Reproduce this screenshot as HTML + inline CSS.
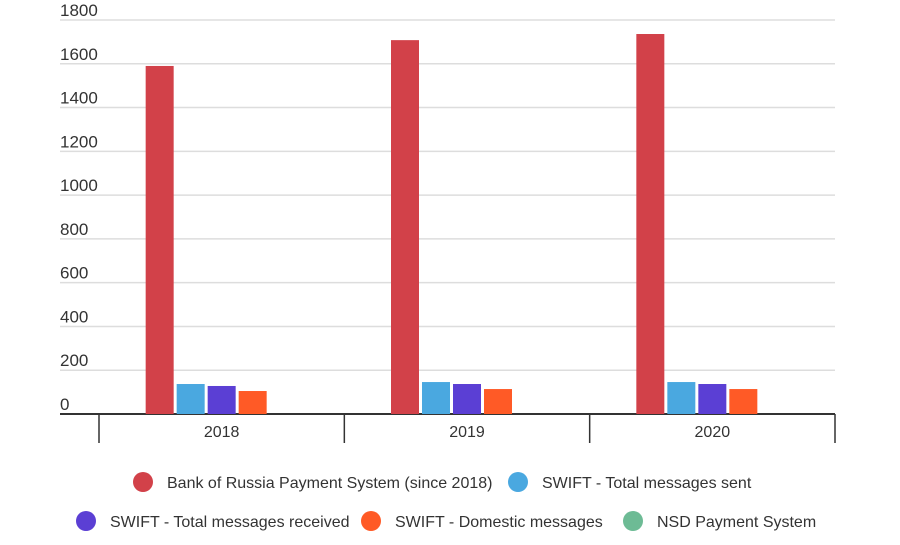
<!DOCTYPE html>
<html><head><meta charset="utf-8"><style>
body{margin:0;background:#fff;font-family:"Liberation Sans",sans-serif;}
svg text{font-family:"Liberation Sans",sans-serif;fill:#333;}
</style></head><body>
<svg id="chart" width="900" height="540" xmlns="http://www.w3.org/2000/svg">
<g id="grid"></g><g id="bars"></g><g id="axis"></g><g id="legend"></g>
</svg>
<script>
const categories = ["2018","2019","2020"];
const seriesNames = ["Bank of Russia Payment System (since 2018)","SWIFT - Total messages sent","SWIFT - Total messages received","SWIFT - Domestic messages","NSD Payment System"];
const bankOfRussia = [1590,1708,1736];
const swiftSent = [137,146,146];
const swiftReceived = [128,137,137];
const swiftDomestic = [105,114,114];
const nsd = [0,0,0];
const yTicks = [0,200,400,600,800,1000,1200,1400,1600,1800];
const colors = ["#d24149","#4aa8e0","#5b3fd4","#ff5a26","#6dbb95"];
const series = [bankOfRussia,swiftSent,swiftReceived,swiftDomestic,nsd];
const NS="http://www.w3.org/2000/svg";
const x0=99,x1=835,y0=414,yTop=20;
const y=v=>y0-(v/1800)*(y0-yTop);
const band=(x1-x0)/categories.length;
function mk(tag,attrs,parent,text){const e=document.createElementNS(NS,tag);for(const k in attrs)e.setAttribute(k,attrs[k]);if(text!==undefined)e.textContent=text;document.getElementById(parent).appendChild(e);return e;}
yTicks.forEach(t=>{
 const l=mk('line',{x1:60,x2:x1,y1:y(t),y2:y(t),stroke:t===0?'#333':'#ddd','stroke-width':t===0?2:1.5},'grid');
 
 
 const tx=mk('text',{x:60,y:y(t)-4,'font-size':17},'grid',String(t));
 
 
});
const bw=28,gap=3;
categories.forEach((c,i)=>{
 const cx=x0+band*(i+0.5);
 const start=cx-(5*bw+4*gap)/2;
 series.forEach((s,j)=>{
  if(s[i]<=0)return;
  const r=mk('rect',{x:start+j*(bw+gap),y:y(s[i]),width:bw,height:y0-y(s[i]),fill:colors[j]},'bars');
  
  
 });
 const t=mk('text',{x:cx,y:437,'text-anchor':'middle','font-size':16},'axis',c);
 
 
});
for(let i=0;i<=categories.length;i++){
 const xx=x0+band*i;
 const l=mk('line',{x1:xx,x2:xx,y1:y0,y2:443,stroke:'#333','stroke-width':1.5},'axis');
 
 
}
const legPos=[[143,482],[518,482],[86,521],[371,521],[633,521]];
seriesNames.forEach((n,j)=>{
 const c=mk('circle',{cx:legPos[j][0],cy:legPos[j][1],r:10,fill:colors[j]},'legend');
 
 
 const t=mk('text',{x:legPos[j][0]+24,y:legPos[j][1]+6,'font-size':16},'legend',n);
 
 
});
</script>
</body></html>
